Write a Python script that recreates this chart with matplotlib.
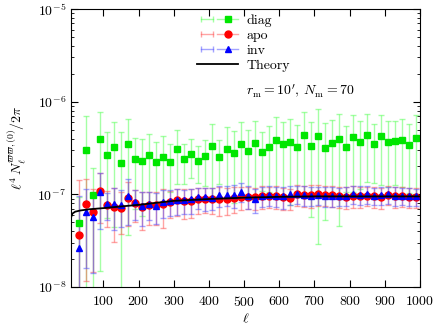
import matplotlib
matplotlib.use("Agg")
import matplotlib.pyplot as plt
from matplotlib.lines import Line2D
from matplotlib.legend_handler import HandlerLine2D, HandlerTuple

plt.rcParams["font.family"] = "serif"
plt.rcParams["font.serif"] = ["cmr10"]
plt.rcParams["mathtext.fontset"] = "cm"
plt.rcParams["axes.formatter.use_mathtext"] = True
plt.rcParams["font.size"] = 10

# bin centres
ell = list(range(30, 1000, 20))

# diag (green squares) and its 1-sigma error
diag = [4.9e-8, 3.0e-7, 9.9e-8, 3.95e-7, 2.65e-7, 3.24e-7, 2.16e-7, 3.46e-7, 2.39e-7, 2.29e-7,
        2.65e-7, 2.21e-7, 2.53e-7, 2.25e-7, 3.10e-7, 2.39e-7, 2.72e-7, 2.31e-7, 2.57e-7, 3.32e-7,
        2.55e-7, 3.06e-7, 2.81e-7, 3.46e-7, 2.93e-7, 3.55e-7, 2.88e-7, 3.26e-7, 3.88e-7, 3.46e-7,
        3.67e-7, 3.24e-7, 4.36e-7, 3.32e-7, 4.29e-7, 3.18e-7, 3.61e-7, 3.95e-7, 3.26e-7, 4.12e-7,
        3.64e-7, 4.36e-7, 3.52e-7, 4.26e-7, 3.67e-7, 3.76e-7, 3.85e-7, 3.38e-7, 4.02e-7]
diag_err = [4.5e-8, 4.0e-7, 9.2e-8, 3.8e-7, 2.1e-7, 2.8e-7, 2.6e-7, 3.1e-7, 1.7e-7, 1.7e-7,
            1.85e-7, 1.46e-7, 1.7e-7, 1.2e-7, 1.8e-7, 1.1e-7, 1.23e-7, 1.0e-7, 1.33e-7, 2.37e-7,
            1.27e-7, 2.22e-7, 2.0e-7, 2.5e-7, 2.0e-7, 2.6e-7, 1.8e-7, 2.2e-7, 2.9e-7, 2.5e-7,
            2.9e-7, 2.3e-7, 3.4e-7, 2.75e-7, 4.0e-7, 2.65e-7, 2.67e-7, 3.5e-7, 2.2e-7, 3.05e-7,
            2.5e-7, 3.0e-7, 2.2e-7, 3.0e-7, 2.46e-7, 2.5e-7, 2.64e-7, 2.35e-7, 3.1e-7]

# apo (red circles)
apo = [3.6e-8, 7.86e-8, 6.44e-8, 1.085e-7, 7.6e-8, 7.35e-8, 7.2e-8, 9.1e-8, 8.06e-8, 7.35e-8,
       7.67e-8, 7.67e-8, 7.8e-8, 8.2e-8, 8.6e-8, 8.47e-8, 8.4e-8, 8.9e-8, 8.95e-8, 8.9e-8,
       8.9e-8, 8.95e-8, 9.1e-8, 9.4e-8, 9.4e-8, 9.3e-8, 9.6e-8, 9.6e-8, 9.6e-8, 9.3e-8,
       9.1e-8, 1.0e-7, 9.75e-8, 9.9e-8, 1.0e-7, 9.9e-8, 9.85e-8, 9.6e-8, 9.4e-8, 9.7e-8,
       9.6e-8, 9.7e-8, 9.6e-8, 9.4e-8, 9.9e-8, 9.6e-8, 9.6e-8, 9.4e-8, 9.4e-8]
apo_err = [1.07e-7, 6.7e-8, 5.0e-8, 6.0e-8, 3.2e-8, 4.3e-8, 3.5e-8, 4.6e-8, 3.0e-8, 3.2e-8,
           3.0e-8, 3.0e-8, 3.5e-8, 2.6e-8, 2.7e-8, 3.0e-8, 2.9e-8, 2.7e-8, 2.7e-8, 2.8e-8,
           3.0e-8, 2.9e-8, 2.8e-8, 2.6e-8, 2.5e-8, 2.5e-8, 2.6e-8, 2.5e-8, 2.6e-8, 2.5e-8,
           2.4e-8, 2.6e-8, 2.5e-8, 2.7e-8, 2.6e-8, 2.5e-8, 2.6e-8, 2.4e-8, 2.5e-8, 2.6e-8,
           2.4e-8, 2.3e-8, 2.4e-8, 2.4e-8, 2.3e-8, 2.4e-8, 2.3e-8, 2.2e-8, 2.2e-8]

# inv (blue triangles)
inv = [2.65e-8, 6.5e-8, 5.73e-8, 1.07e-7, 7.8e-8, 7.9e-8, 7.7e-8, 9.6e-8, 8.2e-8, 7.5e-8,
       7.9e-8, 7.55e-8, 8.3e-8, 8.4e-8, 8.68e-8, 8.68e-8, 8.8e-8, 9.4e-8, 9.25e-8, 9.2e-8,
       9.83e-8, 9.9e-8, 9.9e-8, 1.07e-7, 9.6e-8, 8.9e-8, 9.6e-8, 9.8e-8, 9.6e-8, 9.5e-8,
       1.0e-7, 1.0e-7, 9.9e-8, 9.7e-8, 9.8e-8, 9.6e-8, 9.7e-8, 9.6e-8, 9.7e-8, 1.0e-7,
       9.9e-8, 1.0e-7, 9.7e-8, 9.8e-8, 1.0e-7, 9.7e-8, 9.7e-8, 9.5e-8, 9.5e-8]
inv_err = [7.0e-8, 4.9e-8, 4.3e-8, 6.5e-8, 2.5e-8, 3.8e-8, 3.3e-8, 4.9e-8, 2.9e-8, 3.0e-8,
           2.6e-8, 2.8e-8, 2.8e-8, 2.6e-8, 2.7e-8, 2.5e-8, 2.7e-8, 2.4e-8, 2.6e-8, 2.5e-8,
           2.6e-8, 2.5e-8, 2.7e-8, 2.5e-8, 2.6e-8, 2.6e-8, 2.3e-8, 2.4e-8, 2.3e-8, 2.5e-8,
           2.4e-8, 2.2e-8, 2.4e-8, 2.3e-8, 2.2e-8, 2.3e-8, 2.4e-8, 2.2e-8, 2.3e-8, 2.2e-8,
           2.3e-8, 2.2e-8, 2.1e-8, 2.2e-8, 2.1e-8, 2.2e-8, 2.1e-8, 2.1e-8, 2.0e-8]

# theory curve
th_ell = [8, 12, 20, 35, 60, 100, 150, 200, 250, 300, 400, 500, 600, 700, 800, 900, 1000]
th_val = [5.6e-8, 6.2e-8, 6.5e-8, 6.7e-8, 6.9e-8, 7.1e-8, 7.4e-8, 7.7e-8, 8.1e-8, 8.5e-8,
          8.9e-8, 9.2e-8, 9.4e-8, 9.5e-8, 9.5e-8, 9.5e-8, 9.5e-8]

W, H = 436, 328
fig = plt.figure(figsize=(W / 100, H / 100), dpi=100)
ax = fig.add_axes([71 / W, 1 - 287 / H, 349 / W, 278 / H])
ax.set_yscale("log")

styles = [
    (diag, diag_err, "s", (0, 0.9, 0), (0.3, 1, 0.3, 0.5), "diag"),
    (apo, apo_err, "o", (1, 0, 0), (1, 0.35, 0.35, 0.55), "apo"),
    (inv, inv_err, "^", (0, 0, 1), (0.35, 0.35, 1, 0.55), "inv"),
]
handles = []
hmap = {}
for vals, errs, mk, col, ecol, lab in styles:
    ax.errorbar(ell, vals, yerr=errs, fmt=mk, color=col, ms=5, mec=col,
                ecolor=ecol, elinewidth=1, capsize=2.5, capthick=1, zorder=2)
    caps = Line2D([], [], color=ecol, marker="|", ms=5, lw=1)
    dot = Line2D([], [], color=ecol, marker=mk, mfc=col, mec=col, ms=5, lw=1)
    hmap[caps] = HandlerLine2D(numpoints=2)
    handles.append((caps, dot))
th_line, = ax.plot(th_ell, th_val, color="black", lw=1.3, zorder=4)
handles.append(th_line)
hmap[tuple] = HandlerTuple(ndivide=None)

ax.set_xlim(8, 1000)
ax.set_ylim(1e-8, 1e-5)
ax.set_xticks(range(100, 1001, 100))
ax.tick_params(which="both", direction="in", top=True, right=True)
ax.tick_params(which="major", length=5)
ax.tick_params(which="minor", length=2.5)
ax.tick_params(axis="x", pad=6)
ax.minorticks_off()
ax.yaxis.set_minor_locator(matplotlib.ticker.LogLocator(subs=range(2, 10)))
ax.yaxis.set_minor_formatter(matplotlib.ticker.NullFormatter())

leg = ax.legend(handles, ["diag", "apo", "inv", "Theory"], handler_map=hmap,
                loc="upper left", bbox_to_anchor=(0.36, 0.982), frameon=False,
                handlelength=3.0, handletextpad=0.6, labelspacing=0.16,
                borderpad=0, borderaxespad=0)

ax.text(0.656, 0.705, r"$r_\mathrm{m} = 10'$, $N_\mathrm{m} = 70$",
        transform=ax.transAxes, ha="center", va="center")
ax.set_xlabel(r"$\ell$", labelpad=2)
ax.set_ylabel(r"$\ell^4\, N_\ell^{\varpi\varpi,(0)}/2\pi$", labelpad=6)

fig.savefig("out.png", dpi=100)
